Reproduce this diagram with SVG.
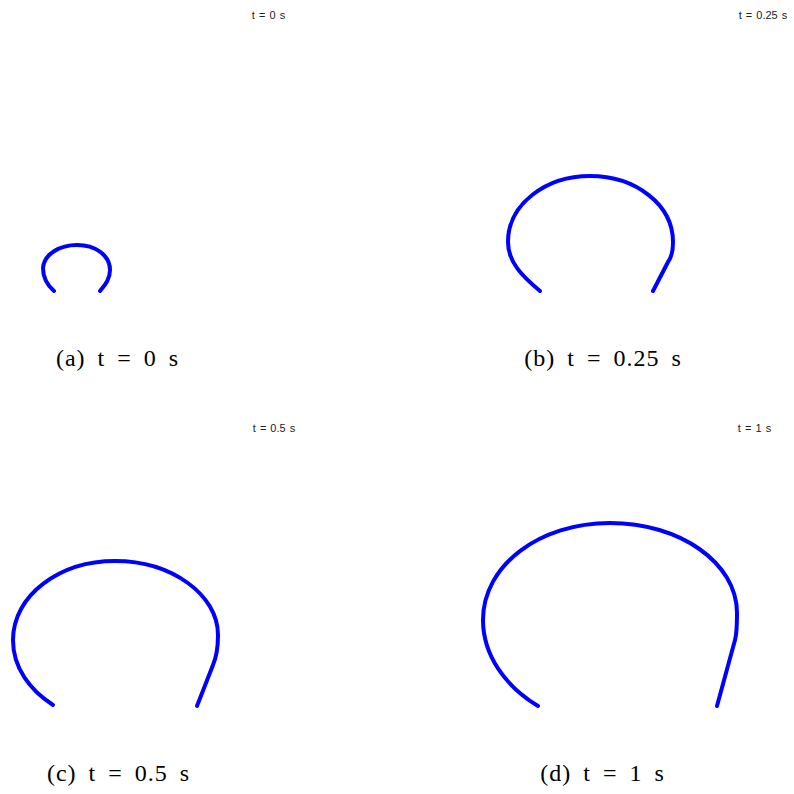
<svg xmlns="http://www.w3.org/2000/svg" width="794" height="794" viewBox="0 0 794 794">
<style>
.c{fill:none;stroke:#0000ff;stroke-width:4;stroke-linecap:round;stroke-linejoin:round}
.t{font-family:"Liberation Sans",Arial,sans-serif;font-size:11px;fill:#222;text-anchor:middle;word-spacing:1px}
.cap{font-family:"Liberation Serif","Times New Roman",serif;font-size:24px;fill:#000;text-anchor:middle;word-spacing:5px;letter-spacing:1px}
</style>
<rect width="794" height="794" fill="#fff"/>
<g id="panel-a">
<text class="t" x="268.5" y="19">t = 0 s</text>
<path class="c" d="M54,291 C46,284 43,276 43,268 C44,254 60,245 77,245 C95,245 110,255 110,270 C110,280 104,286 100,291"/>
<text class="cap" x="117.5" y="366">(a) t = 0 s</text>
</g>
<g id="panel-b">
<text class="t" x="763" y="19">t = 0.25 s</text>
<path class="c" d="M540,291 C522,276 508,262 508,242 C508,204 546,176 590,176 C636,176 673,205 673,242 C673,252 671,258 668,262 L653,291"/>
<text class="cap" x="603" y="366">(b) t = 0.25 s</text>
</g>
<g id="panel-c">
<text class="t" x="274" y="432">t = 0.5 s</text>
<path class="c" d="M53,705 C30,690 13,668 13,640 C13,595 60,561 115,561 C172,561 218,595 218,635 C218,650 216,658 213,665 L197,706"/>
<text class="cap" x="118.5" y="781">(c) t = 0.5 s</text>
</g>
<g id="panel-d">
<text class="t" x="754.5" y="432">t = 1 s</text>
<path class="c" d="M538,706 C505,686 483,655 483,620 C483,565 540,523 610,523 C680,523 737,563 737,613 C737,625 737,633 735,640 L717,706"/>
<text class="cap" x="602.5" y="781">(d) t = 1 s</text>
</g>
<g id="connectors"/>
</svg>
